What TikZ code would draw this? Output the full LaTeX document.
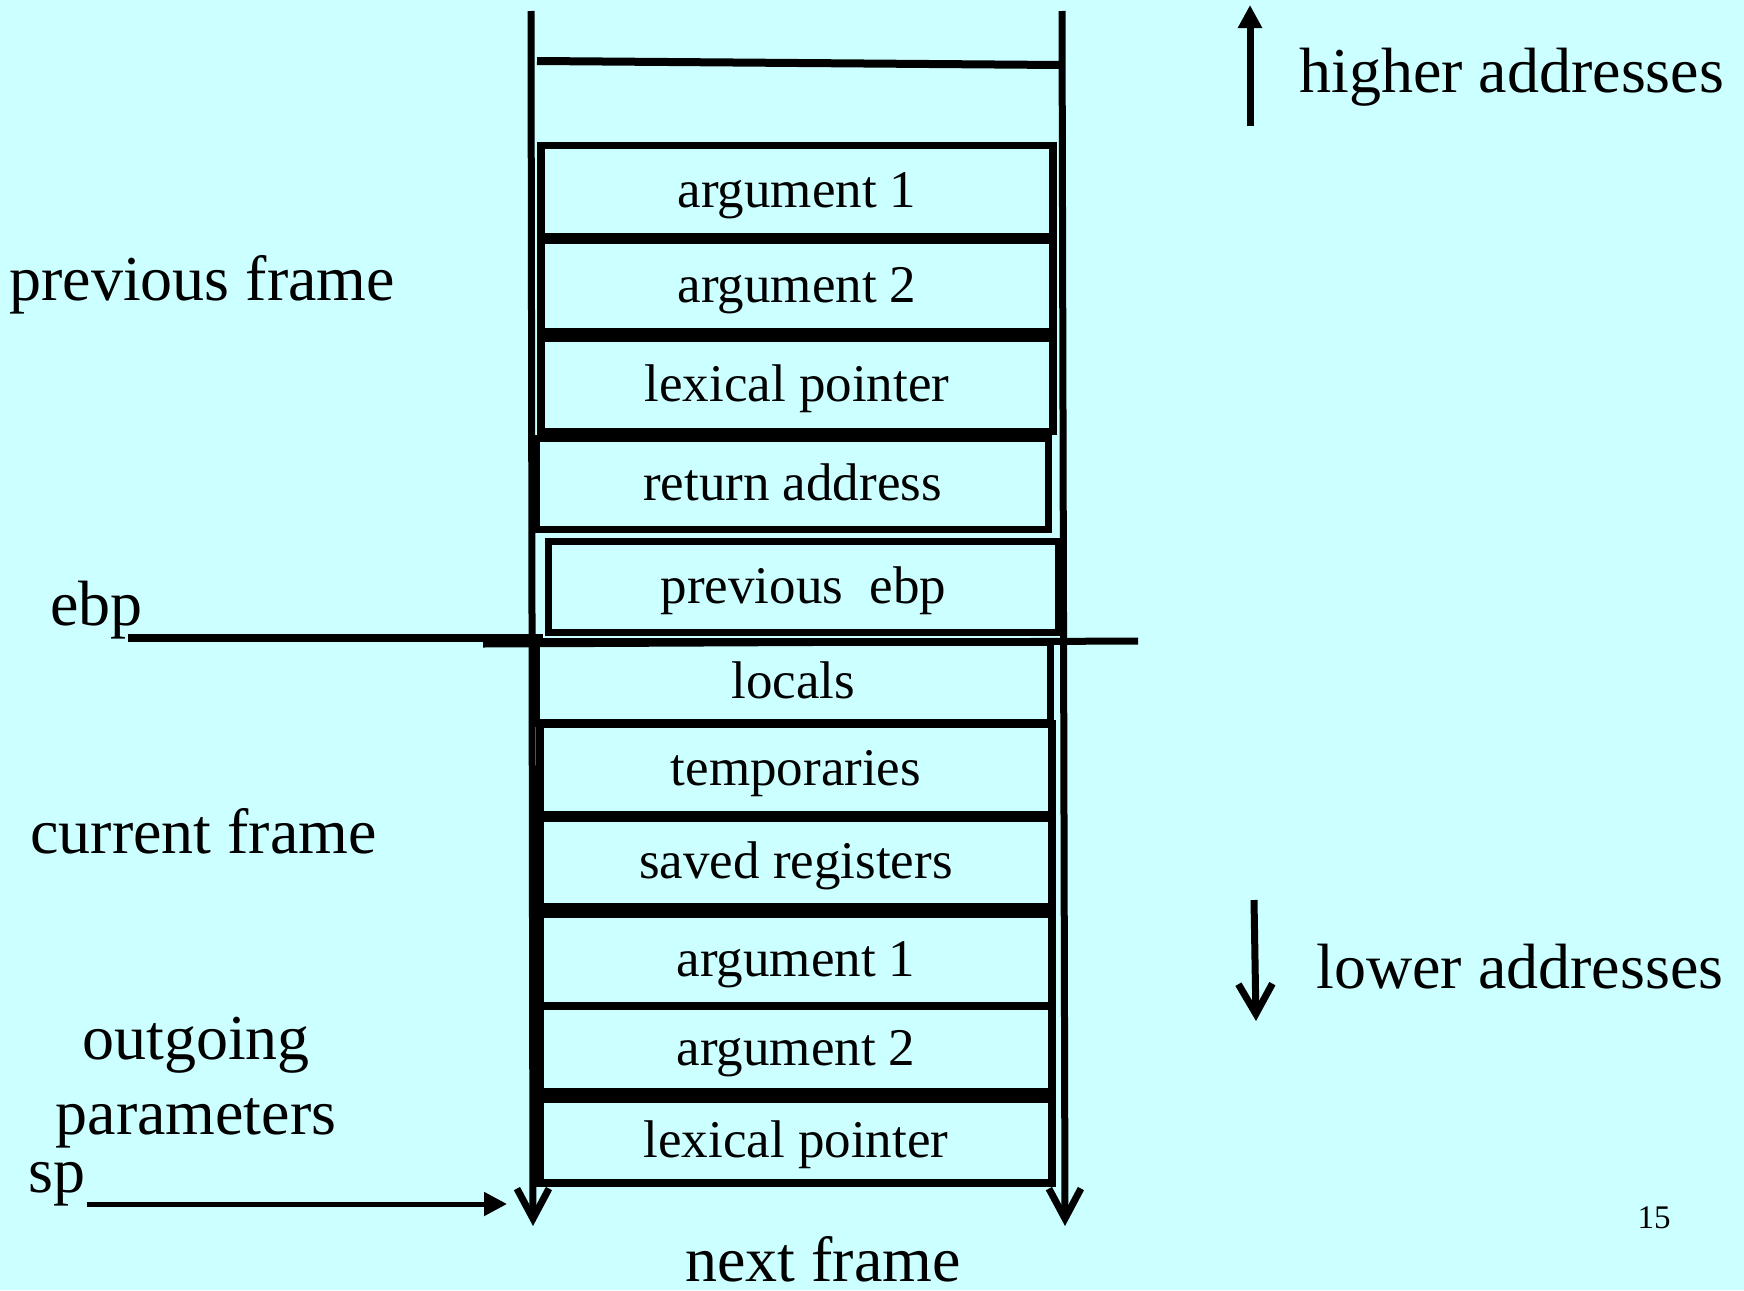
\documentclass[tikz,border=0pt]{standalone}
\usepackage{fontspec}
\setmainfont{Liberation Serif}
\usepackage{xcolor}
\usetikzlibrary{positioning, arrows.meta}
\definecolor{slidecyan}{RGB}{204,255,255}

\begin{document}
\begin{tikzpicture}[x=0.5pt, y=-0.5pt, node distance=47pt, on grid,
    slot/.style={rectangle, draw, line width=3.75pt, minimum width=256pt, minimum height=45.5pt,
      inner sep=0pt, text height=20.5pt, text depth=4.3pt, font=\fontsize{26.5}{30}\selectfont},
    lbl/.style={anchor=base west, inner sep=0pt, font=\fontsize{32}{38}\selectfont},
    rail/.style={line width=3.5pt, -{Straight Barb[length=15pt, width=16pt]}},
    pointer/.style={-{Triangle[length=11.5pt, width=11.5pt]}}]

  \fill[slidecyan] (0,0) rectangle (1744,1290);
  \useasboundingbox (0,0) rectangle (1744,1290);

  % the two sides of the stack
  \coordinate (LTop) at (531,11);
  \coordinate (LEnd) at (533,1226);
  \coordinate (RTop) at (1062,11);
  \coordinate (REnd) at (1065,1226);
  \draw[rail] (LTop) -- (LEnd);
  \draw[rail] (RTop) -- (REnd);

  \coordinate (TopL) at (537,61);
  \coordinate (TopR) at (1060,65);
  \draw[line width=4pt] (TopL) -- (TopR);

  % previous frame
  \node[slot] (ArgA) at (797,191) {argument 1};
  \node[slot] (ArgB) [below=47.5pt of ArgA] {argument 2};
  \node[slot, minimum height=46.5pt] (LexA) [below=49.5pt of ArgB] {lexical pointer};
  \node[slot] (RetAddr) [below=49.5pt of LexA, xshift=-2.25pt] {return address};
  \node[slot, minimum width=255pt] (PrevEbp) [below=51.5pt of RetAddr, xshift=5.5pt] {previous\ \ ebp};

  % current frame
  \node[slot, minimum width=257pt, minimum height=40.5pt] (Locals) [below=47.75pt of PrevEbp, xshift=-5pt] {locals};
  \node[slot] (Temps) [below=43.5pt of Locals, xshift=1.25pt] {temporaries};
  \node[slot, minimum height=44.5pt] (Saved) [below=46.5pt of Temps] {saved registers};
  \node[slot] (ArgC) [below=48.75pt of Saved] {argument 1};
  \node[slot, minimum height=43pt] (ArgD) [below=44.5pt of ArgC] {argument 2};
  \node[slot, minimum height=42pt] (LexB) [below=46pt of ArgD] {lexical pointer};

  % ebp
  \node[lbl] (ebp) at (50,625) {ebp};
  \coordinate (EbpA) at (128,638);
  \coordinate (EbpB) at (543,638);
  \coordinate (EbpC) at (483,644);
  \coordinate (EbpD) at (1138,641);
  \draw[line width=3.75pt] (EbpA) -- (EbpB);
  \draw[line width=3.5pt] (EbpC) -- (EbpD);

  % sp
  \node[lbl] (sp) at (28,1192) {sp};
  \coordinate (SpTail) at (87,1204);
  \coordinate (SpHead) at (507,1204);
  \draw[pointer, line width=2.5pt] (SpTail) -- (SpHead);

  \node[lbl] (prevframe) at (9,300) {previous frame};
  \node[lbl] (curframe) at (30,853) {current frame};
  \node[lbl, anchor=base] (outgoing) at (196,1059) {outgoing};
  \node[lbl, anchor=base] (params) at (196,1134) {parameters};
  \node[lbl, anchor=base] (nextframe) at (823,1281) {next frame};

  % direction of addresses
  \coordinate (UpTail) at (1250,126);
  \coordinate (UpHead) at (1250,5);
  \draw[pointer, line width=3.5pt] (UpTail) -- (UpHead);
  \node[lbl] (higher) at (1299,92) {higher addresses};

  \coordinate (DnTail) at (1254,900);
  \coordinate (DnHead) at (1256,1021);
  \draw[line width=3.5pt, -{Straight Barb[length=15pt, width=17pt]}] (DnTail) -- (DnHead);
  \node[lbl] (lower) at (1316,988) {lower addresses};

  \node[anchor=base, inner sep=0pt, font=\fontsize{16.5}{20}\selectfont] (pagenum) at (1654,1228) {15};

\end{tikzpicture}
\end{document}
